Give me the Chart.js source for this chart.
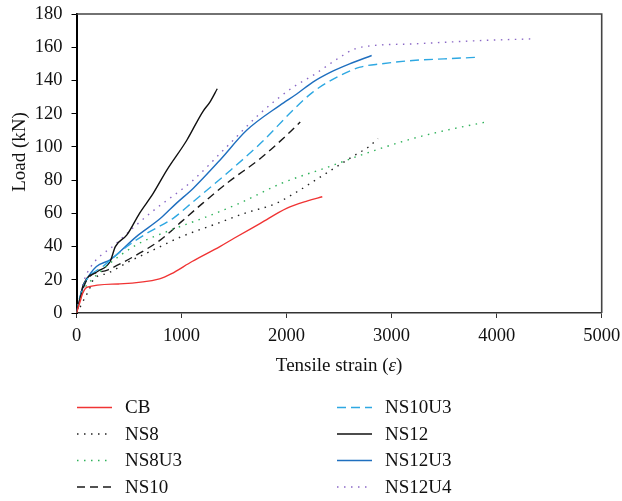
<!DOCTYPE html>
<html>
<head>
<meta charset="utf-8">
<script src="https://cdn.jsdelivr.net/npm/chart.js@4/dist/chart.umd.min.js"></script>
<style>
  html, body { margin: 0; padding: 0; background: #fff; }
  #wrap { position: relative; width: 622px; height: 501px; }
</style>
</head>
<body>
<div id="wrap"><canvas id="loadChart" width="622" height="501"></canvas></div>
<script>
'use strict';

const SERIES_NAMES = ['CB', 'NS8', 'NS8U3', 'NS10', 'NS10U3', 'NS12', 'NS12U3', 'NS12U4'];

const cbStrain = [0, 30, 60, 100, 400, 790, 900, 1100, 1365, 1500, 1750, 2000, 2200, 2340];
const cbLoad   = [0, 6, 12, 15.5, 17.5, 20.5, 23.5, 31, 40, 45, 54, 63, 67.5, 70];

const ns8Strain = [0, 30, 70, 120, 160, 300, 500, 700, 1000, 1300, 1600, 1900, 2100, 2300, 2500, 2650, 2780, 2870];
const ns8Load   = [0, 3, 8, 14, 20, 24, 31, 37, 46, 53, 60, 66, 73, 81, 89, 95, 100, 105];

const ns8u3Strain = [0, 30, 70, 130, 300, 570, 900, 1200, 1550, 1950, 2400, 2750, 3200, 3520, 3900];
const ns8u3Load   = [0, 7, 14, 19, 29, 41, 50, 57, 66, 78, 88, 96, 105, 110, 115];

const ns10Strain = [0, 30, 70, 110, 300, 600, 800, 1000, 1200, 1450, 1750, 2000, 2130];
const ns10Load   = [0, 8, 16, 21, 26, 36, 44, 55, 66, 79, 93, 107, 115];

const ns10u3Strain = [0, 30, 70, 120, 250, 480, 670, 920, 1110, 1430, 1750, 2060, 2250, 2480, 2700, 2900, 3200, 3500, 3840];
const ns10u3Load   = [0, 9, 17, 22, 28, 40, 48, 57, 67, 84, 102, 122, 133, 142, 148, 150, 152, 153, 154];

const ns12Strain = [0, 30, 60, 100, 200, 320, 370, 480, 600, 730, 860, 1050, 1200, 1270, 1340];
const ns12Load   = [0, 8, 16, 21, 25, 31, 40, 47, 60, 72, 86, 104, 121, 127, 135];

const ns12u3Strain = [0, 30, 60, 95, 190, 320, 570, 800, 950, 1110, 1365, 1620, 1936, 2100, 2250, 2420, 2600, 2810];
const ns12u3Load   = [0, 8, 15, 20, 28, 32, 46, 57, 66, 75, 92, 110, 125, 132, 139, 145, 150, 155];

const ns12u4Strain = [0, 30, 60, 100, 380, 700, 1111, 1429, 1746, 2063, 2250, 2508, 2650, 2825, 3200, 3840, 4320];
const ns12u4Load   = [0, 9, 17, 24, 42, 60, 80, 100, 120, 136, 143, 154, 159, 161, 162, 164, 165];

const X_TICKS = [0, 1000, 2000, 3000, 4000, 5000];
const Y_TICKS = [0, 20, 40, 60, 80, 100, 120, 140, 160, 180];

const FONT = '"Liberation Serif", "Times New Roman", serif';

const STYLES = [
  { color: '#f03434', dash: [] },
  { color: '#222222', dash: [1.5, 5.5] },
  { color: '#2fb25a', dash: [1.5, 5.5] },
  { color: '#1a1a1a', dash: [8, 5] },
  { color: '#2ea8e2', dash: [9, 5] },
  { color: '#111111', dash: [] },
  { color: '#1f6fbf', dash: [] },
  { color: '#8a68c6', dash: [1.5, 5.5] },
];

const strains = [cbStrain, ns8Strain, ns8u3Strain, ns10Strain, ns10u3Strain, ns12Strain, ns12u3Strain, ns12u4Strain];
const loads   = [cbLoad, ns8Load, ns8u3Load, ns10Load, ns10u3Load, ns12Load, ns12u3Load, ns12u4Load];

function toPoints(xs, ys) {
  return xs.map((x, i) => ({ x, y: ys[i] }));
}

const datasets = SERIES_NAMES.map((name, i) => ({
  label: name,
  data: toPoints(strains[i], loads[i]),
  borderColor: STYLES[i].color,
  borderDash: STYLES[i].dash,
  borderWidth: 1.4,
  pointRadius: 0,
  fill: false,
  cubicInterpolationMode: 'monotone',
}));

// frame on top/right, axis titles and the two-column legend
const extrasPlugin = {
  id: 'extras',
  beforeDatasetsDraw(chart) {
    const { ctx, chartArea: a } = chart;
    ctx.save();
    ctx.strokeStyle = '#444';
    ctx.lineWidth = 1.6;
    ctx.beginPath();
    ctx.moveTo(a.left, a.top);
    ctx.lineTo(a.right, a.top);
    ctx.lineTo(a.right, a.bottom);
    ctx.stroke();
    ctx.restore();
  },
  afterDraw(chart) {
    const { ctx, chartArea: a } = chart;

    // y title
    ctx.save();
    ctx.fillStyle = '#111';
    ctx.font = '19px ' + FONT;
    ctx.translate(20, 152);
    ctx.rotate(-Math.PI / 2);
    ctx.textAlign = 'center';
    ctx.textBaseline = 'middle';
    ctx.fillText('Load (kN)', 0, 0);
    ctx.restore();

    // x title with italic epsilon
    ctx.save();
    ctx.fillStyle = '#111';
    ctx.textBaseline = 'middle';
    const parts = [['Tensile strain (', ''], ['ε', 'italic '], [')', '']];
    let total = 0;
    parts.forEach(p => { ctx.font = p[1] + '19px ' + FONT; total += ctx.measureText(p[0]).width; });
    let x = (a.left + a.right) / 2 - total / 2;
    parts.forEach(p => {
      ctx.font = p[1] + '19px ' + FONT;
      ctx.fillText(p[0], x, 366);
      x += ctx.measureText(p[0]).width;
    });
    ctx.restore();

    const colX = [77, 337];
    const textX = [125, 385];
    const rowY = [407.5, 434, 460.5, 487];
    ctx.save();
    ctx.font = '19px ' + FONT;
    ctx.textBaseline = 'middle';
    chart.data.datasets.forEach((ds, i) => {
      const col = i < 4 ? 0 : 1;
      const y = rowY[i % 4];
      ctx.strokeStyle = ds.borderColor;
      ctx.lineWidth = 1.4;
      ctx.setLineDash(ds.borderDash);
      ctx.beginPath();
      ctx.moveTo(colX[col], y);
      ctx.lineTo(colX[col] + 35, y);
      ctx.stroke();
      ctx.setLineDash([]);
      ctx.fillStyle = '#111';
      ctx.fillText(ds.label, textX[col], y + 1);
    });
    ctx.restore();
  },
};

new Chart(document.getElementById('loadChart'), {
  type: 'line',
  data: { datasets },
  plugins: [extrasPlugin],
  options: {
    responsive: false,
    animation: false,
    layout: { padding: { top: 14, right: 20.3, bottom: 121, left: 0 } },
    plugins: {
      legend: { display: false },
      tooltip: { enabled: false },
    },
    scales: {
      x: {
        type: 'linear',
        min: 0,
        max: 5000,
        afterFit(scale) {
          scale.height = 67;
          scale.paddingLeft = 0;
          scale.paddingRight = 0;
        },
        afterBuildTicks(scale) { scale.ticks = X_TICKS.map(v => ({ value: v })); },
        border: { display: true, color: '#333', width: 1.5 },
        grid: { drawOnChartArea: false, drawTicks: true, tickLength: 5, color: '#333' },
        ticks: {
          color: '#111',
          font: { family: FONT, size: 18.5 },
          padding: 7,
          maxRotation: 0,
          callback: v => String(v),
        },
      },
      y: {
        min: 0,
        max: 180,
        afterFit(scale) {
          scale.width = 76.5;
          scale.paddingTop = 0;
          scale.paddingBottom = 0;
        },
        afterBuildTicks(scale) { scale.ticks = Y_TICKS.map(v => ({ value: v })); },
        border: { display: true, color: '#000', width: 2 },
        grid: { drawOnChartArea: false, drawTicks: true, tickLength: 5, color: '#000' },
        ticks: { color: '#111', font: { family: FONT, size: 18.5 }, padding: 9 },
      },
    },
  },
});
</script>
</body>
</html>
